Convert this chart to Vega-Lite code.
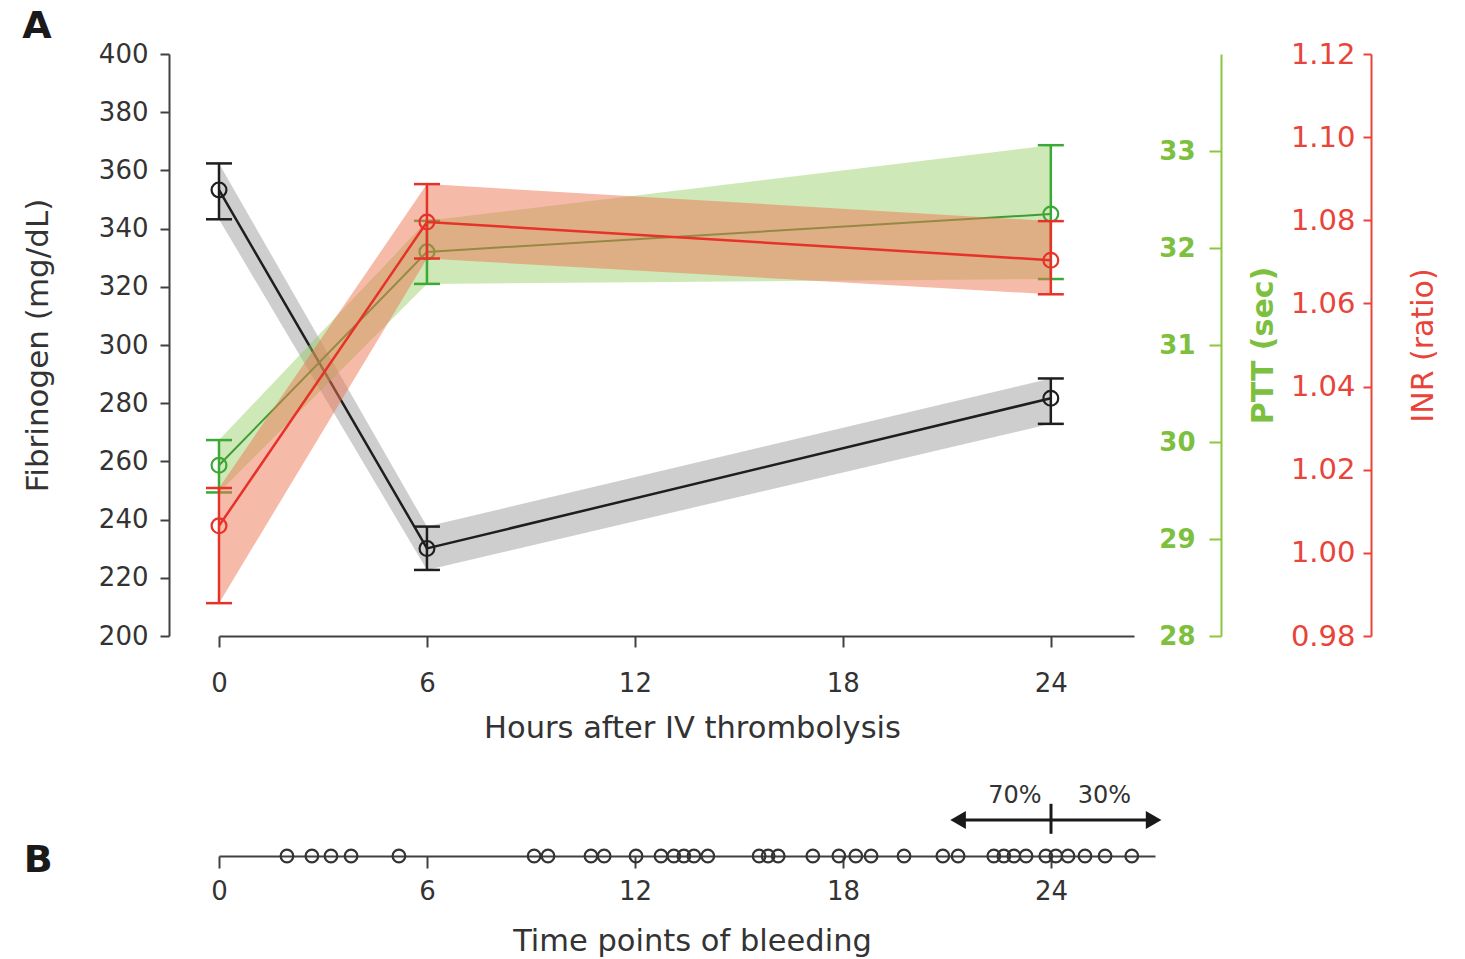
{
  "$schema": "https://vega.github.io/schema/vega-lite/v6.json",
  "background": "white",
  "padding": {"left": 22, "top": 8, "right": 10, "bottom": 4},
  "config": {
    "font": "DejaVu Sans",
    "view": {"stroke": null},
    "axis": {"grid": false, "labelFont": "DejaVu Sans", "titleFont": "DejaVu Sans", "titleFontWeight": "normal"},
    "title": {"font": "DejaVu Sans"}
  },
  "spacing": 40,
  "vconcat": [
    {
      "title": {"text": "A", "anchor": "start", "frame": "bounds", "fontSize": 38, "fontWeight": "bold", "color": "#1a1a1a", "offset": -6},
      "width": 915,
      "height": 582,
      "data": {"values": [
        {"t": 0, "fib": 353.3, "fibLo": 343.2, "fibHi": 362.4, "ptt": 29.76, "pttLo": 29.48, "pttHi": 30.02, "inr": 1.0065, "inrLo": 0.9879, "inrHi": 1.0156},
        {"t": 6, "fib": 230.1, "fibLo": 222.7, "fibHi": 237.6, "ptt": 31.96, "pttLo": 31.63, "pttHi": 32.28, "inr": 1.0796, "inrLo": 1.0708, "inrHi": 1.0887},
        {"t": 24, "fib": 281.7, "fibLo": 272.9, "fibHi": 288.5, "ptt": 32.35, "pttLo": 31.68, "pttHi": 33.06, "inr": 1.0704, "inrLo": 1.0622, "inrHi": 1.0798}
      ]},
      "encoding": {
        "x": {"field": "t", "type": "quantitative",
          "scale": {"domain": [0, 26.4], "nice": false, "zero": false},
          "axis": {"values": [0, 6, 12, 18, 24], "title": "Hours after IV thrombolysis",
            "domainColor": "#404040", "domainWidth": 2, "tickColor": "#404040", "tickWidth": 2, "tickSize": 11,
            "labelFontSize": 26, "labelColor": "#333333", "labelPadding": 23, "labelFlush": false,
            "titleFontSize": 30.5, "titleColor": "#333333", "titlePadding": 17, "titleX": 473}}
      },
      "layer": [
        {
          "layer": [
            {"mark": {"type": "area", "color": "#a6a6a6", "opacity": 0.55},
             "encoding": {"y": {"field": "fibLo", "type": "quantitative", "scale": {"domain": [200, 400], "nice": false, "zero": false},
               "axis": {"orient": "left", "offset": 50, "values": [200, 220, 240, 260, 280, 300, 320, 340, 360, 380, 400], "title": "Fibrinogen (mg/dL)",
                 "domainColor": "#404040", "domainWidth": 2, "tickColor": "#404040", "tickWidth": 2, "tickSize": 9,
                 "labelFontSize": 26, "labelColor": "#333333", "labelPadding": 12,
                 "titleFontSize": 31, "titleColor": "#333333", "titlePadding": 44}},
               "y2": {"field": "fibHi"}}},
            {"mark": {"type": "line", "color": "#1e1e1e", "strokeWidth": 2.5},
             "encoding": {"y": {"field": "fib", "type": "quantitative"}}},
            {"mark": {"type": "rule", "color": "#1e1e1e", "strokeWidth": 2.5},
             "encoding": {"y": {"field": "fibLo", "type": "quantitative"}, "y2": {"field": "fibHi"}}},
            {"mark": {"type": "tick", "orient": "horizontal", "color": "#1e1e1e", "size": 26, "thickness": 2.5, "opacity": 1},
             "encoding": {"y": {"field": "fibLo", "type": "quantitative"}}},
            {"mark": {"type": "tick", "orient": "horizontal", "color": "#1e1e1e", "size": 26, "thickness": 2.5, "opacity": 1},
             "encoding": {"y": {"field": "fibHi", "type": "quantitative"}}},
            {"mark": {"type": "point", "shape": "circle", "filled": false, "color": "#1e1e1e", "size": 220, "strokeWidth": 2.2, "opacity": 1},
             "encoding": {"y": {"field": "fib", "type": "quantitative"}}}
          ]
        },
        {
          "layer": [
            {"mark": {"type": "area", "color": "#95cc60", "opacity": 0.45},
             "encoding": {"y": {"field": "pttLo", "type": "quantitative", "scale": {"domain": [28, 34], "nice": false, "zero": false},
               "axis": {"orient": "left", "offset": -1002, "values": [28, 29, 30, 31, 32, 33], "format": "d", "title": "PTT (sec)",
                 "domainColor": "#8cc63e", "domainWidth": 2, "tickColor": "#8cc63e", "tickWidth": 2, "tickSize": 12,
                 "labelFontSize": 26, "labelFontWeight": "bold", "labelColor": "#7dbf3f", "labelPadding": 14,
                 "titleFontSize": 30, "titleFontWeight": "bold", "titleColor": "#7dbf3f", "titleX": 42, "titleBaseline": "middle"}},
               "y2": {"field": "pttHi"}}},
            {"mark": {"type": "line", "color": "#3f9c35", "strokeWidth": 2},
             "encoding": {"y": {"field": "ptt", "type": "quantitative"}}},
            {"mark": {"type": "rule", "color": "#3aa935", "strokeWidth": 2.5},
             "encoding": {"y": {"field": "pttLo", "type": "quantitative"}, "y2": {"field": "pttHi"}}},
            {"mark": {"type": "tick", "orient": "horizontal", "color": "#3aa935", "size": 26, "thickness": 2.5, "opacity": 1},
             "encoding": {"y": {"field": "pttLo", "type": "quantitative"}}},
            {"mark": {"type": "tick", "orient": "horizontal", "color": "#3aa935", "size": 26, "thickness": 2.5, "opacity": 1},
             "encoding": {"y": {"field": "pttHi", "type": "quantitative"}}},
            {"mark": {"type": "point", "shape": "circle", "filled": false, "color": "#3aa935", "size": 220, "strokeWidth": 2.2, "opacity": 1},
             "encoding": {"y": {"field": "ptt", "type": "quantitative"}}}
          ]
        },
        {
          "layer": [
            {"mark": {"type": "area", "color": "#ee7552", "opacity": 0.5},
             "encoding": {"y": {"field": "inrLo", "type": "quantitative", "scale": {"domain": [0.98, 1.12], "nice": false, "zero": false},
               "axis": {"orient": "left", "offset": -1152, "values": [0.98, 1.0, 1.02, 1.04, 1.06, 1.08, 1.1, 1.12], "format": ".2f", "title": "INR (ratio)",
                 "domainColor": "#e8443a", "domainWidth": 2, "tickColor": "#e8443a", "tickWidth": 2, "tickSize": 8,
                 "labelFontSize": 29, "labelColor": "#e8443a", "labelPadding": 8,
                 "titleFontSize": 30, "titleColor": "#e8443a", "titleX": 52, "titleBaseline": "middle"}},
               "y2": {"field": "inrHi"}}},
            {"mark": {"type": "line", "color": "#e63228", "strokeWidth": 2.5},
             "encoding": {"y": {"field": "inr", "type": "quantitative"}}},
            {"mark": {"type": "rule", "color": "#e63228", "strokeWidth": 2.5},
             "encoding": {"y": {"field": "inrLo", "type": "quantitative"}, "y2": {"field": "inrHi"}}},
            {"mark": {"type": "tick", "orient": "horizontal", "color": "#e63228", "size": 26, "thickness": 2.5, "opacity": 1},
             "encoding": {"y": {"field": "inrLo", "type": "quantitative"}}},
            {"mark": {"type": "tick", "orient": "horizontal", "color": "#e63228", "size": 26, "thickness": 2.5, "opacity": 1},
             "encoding": {"y": {"field": "inrHi", "type": "quantitative"}}},
            {"mark": {"type": "point", "shape": "circle", "filled": false, "color": "#e63228", "size": 220, "strokeWidth": 2.2, "opacity": 1},
             "encoding": {"y": {"field": "inr", "type": "quantitative"}}}
          ]
        }
      ],
      "resolve": {"scale": {"y": "independent"}, "axis": {"y": "independent"}}
    },
    {
      "title": {"text": "B", "orient": "left", "anchor": "start", "frame": "group", "angle": 0, "align": "right", "baseline": "middle", "dy": 5, "fontSize": 38, "fontWeight": "bold", "color": "#1a1a1a", "offset": 129},
      "width": 936,
      "height": 60,
      "layer": [
        {
          "data": {"values": [
            {"t": 1.96}, {"t": 2.68}, {"t": 3.23}, {"t": 3.81}, {"t": 5.19},
            {"t": 9.09}, {"t": 9.49}, {"t": 10.73}, {"t": 11.11}, {"t": 12.03},
            {"t": 12.75}, {"t": 13.12}, {"t": 13.41}, {"t": 13.70}, {"t": 14.10},
            {"t": 15.58}, {"t": 15.84}, {"t": 16.13}, {"t": 17.13}, {"t": 17.88},
            {"t": 18.37}, {"t": 18.81}, {"t": 19.76}, {"t": 20.88}, {"t": 21.32},
            {"t": 22.35}, {"t": 22.64}, {"t": 22.93}, {"t": 23.28}, {"t": 23.85},
            {"t": 24.14}, {"t": 24.49}, {"t": 24.98}, {"t": 25.56}, {"t": 26.33}
          ]},
          "mark": {"type": "point", "shape": "circle", "filled": false, "color": "#333333", "size": 160, "strokeWidth": 2.2, "opacity": 1},
          "encoding": {
            "x": {"field": "t", "type": "quantitative", "scale": {"domain": [0, 27], "nice": false, "zero": false},
              "axis": {"values": [0, 6, 12, 18, 24], "title": "Time points of bleeding",
                "domainColor": "#404040", "domainWidth": 2, "tickColor": "#404040", "tickWidth": 2, "tickSize": 12,
                "labelFontSize": 26, "labelColor": "#333333", "labelPadding": 10, "labelFlush": false,
                "titleFontSize": 30.5, "titleColor": "#333333", "titlePadding": 22, "titleX": 473}},
            "y": {"datum": 0, "type": "quantitative", "scale": {"domain": [0, 1], "nice": false}, "axis": null}
          }
        },
        {
          "data": {"values": [{"start": 21.32, "end": 26.96, "level": 0.6}]},
          "mark": {"type": "rule", "color": "#1a1a1a", "strokeWidth": 3},
          "encoding": {
            "x": {"field": "start", "type": "quantitative"},
            "x2": {"field": "end"},
            "y": {"field": "level", "type": "quantitative", "axis": null}
          }
        },
        {
          "data": {"values": [{"pos": 21.32, "dir": "left", "level": 0.6}, {"pos": 26.96, "dir": "right", "level": 0.6}]},
          "mark": {"type": "point", "filled": true, "color": "#1a1a1a", "size": 324, "opacity": 1},
          "encoding": {
            "x": {"field": "pos", "type": "quantitative"},
            "y": {"field": "level", "type": "quantitative", "axis": null},
            "shape": {"field": "dir", "type": "nominal", "scale": {"domain": ["left", "right"], "range": ["triangle-left", "triangle-right"]}, "legend": null}
          }
        },
        {
          "data": {"values": [{"at": 24, "low": 0.37, "high": 0.87}]},
          "mark": {"type": "rule", "color": "#1a1a1a", "strokeWidth": 3},
          "encoding": {
            "x": {"field": "at", "type": "quantitative"},
            "y": {"field": "low", "type": "quantitative", "axis": null},
            "y2": {"field": "high"}
          }
        },
        {
          "data": {"values": [{"pos": 22.96, "label": "70%", "level": 1.0}, {"pos": 25.54, "label": "30%", "level": 1.0}]},
          "mark": {"type": "text", "fontSize": 24, "color": "#333333", "baseline": "middle", "align": "center"},
          "encoding": {
            "x": {"field": "pos", "type": "quantitative"},
            "y": {"field": "level", "type": "quantitative", "axis": null},
            "text": {"field": "label"}
          }
        }
      ]
    }
  ]
}
